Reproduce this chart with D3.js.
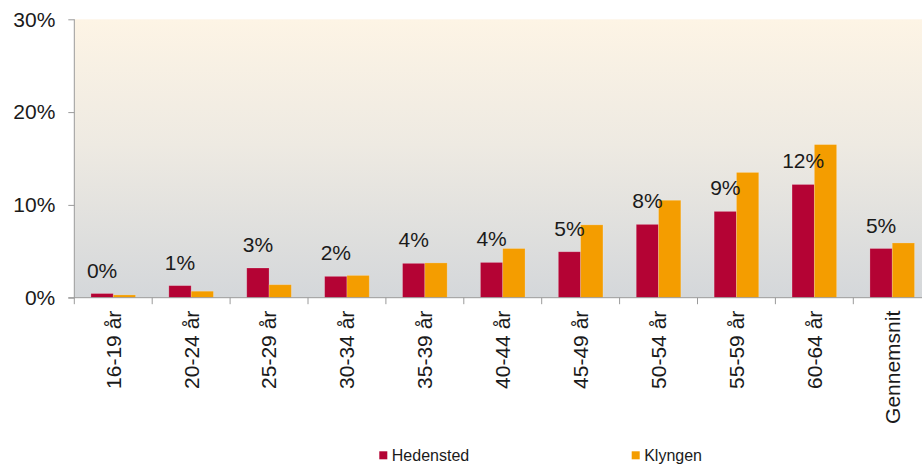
<!DOCTYPE html>
<html>
<head>
<meta charset="utf-8">
<script src="https://cdn.jsdelivr.net/npm/d3@7"></script>
<style>
  body { margin: 0; background: #fff; }
  svg text { font-family: "Liberation Sans", Arial, sans-serif; fill: #1a1a1a; }
</style>
</head>
<body>
<div id="graph"></div>
<script>
var categories = ['16-19 år', '20-24 år', '25-29 år', '30-34 år', '35-39 år', '40-44 år',
  '45-49 år', '50-54 år', '55-59 år', '60-64 år', 'Gennemsnit']
var hedensted = [0.0045, 0.013, 0.032, 0.023, 0.037, 0.038, 0.0495, 0.079, 0.093, 0.122, 0.053]
var klyngen = [0.003, 0.007, 0.014, 0.024, 0.0375, 0.053, 0.0785, 0.105, 0.135, 0.165, 0.059]
var seriesNames = ['Hedensted', 'Klyngen']
var colors = ['#b40334', '#f49d00']
var yTicks = [0, 0.1, 0.2, 0.3]

var width = 922, height = 466
var plotLeft = 74.3, plotTop = 19.3, plotBottom = 297.7
var plotRight = plotLeft + 77.9 * categories.length

var svg = d3.select('#graph').append('svg')
  .attr('width', width).attr('height', height)

var grad = svg.append('defs').append('linearGradient')
  .attr('id', 'bg').attr('x1', 0).attr('y1', 0).attr('x2', 0).attr('y2', 1)
grad.append('stop').attr('offset', '0%').attr('stop-color', '#fdf4e5')
grad.append('stop').attr('offset', '45%').attr('stop-color', '#eeeae2')
grad.append('stop').attr('offset', '100%').attr('stop-color', '#d4d7da')

var x = d3.scaleBand().domain(categories).range([plotLeft, plotRight])
var xs = d3.scaleBand().domain(seriesNames).range([0, 44.6])
var y = d3.scaleLinear().domain([0, 0.3]).range([plotBottom, plotTop])

svg.append('rect')
  .attr('x', plotLeft).attr('y', plotTop)
  .attr('width', plotRight - plotLeft).attr('height', plotBottom - plotTop)
  .attr('fill', 'url(#bg)')

var rows = categories.map((c, i) => ({cat: c, values: [hedensted[i], klyngen[i]]}))
var pad = (x.bandwidth() - 44.6) / 2

var groups = svg.selectAll('g.grp').data(rows).join('g')
  .attr('class', 'grp')
  .attr('transform', d => `translate(${x(d.cat) + pad},0)`)

groups.selectAll('rect').data(d => d.values.map((v, j) => ({v: v, name: seriesNames[j], j: j})))
  .join('rect')
  .attr('x', d => xs(d.name))
  .attr('width', xs.bandwidth())
  .attr('y', d => y(d.v))
  .attr('height', d => plotBottom - y(d.v))
  .attr('fill', d => colors[d.j])
  .attr('stroke', 'rgba(255,255,255,0.25)')
  .attr('stroke-width', 0.8)

var fmt = d3.format('.0%')
groups.append('text')
  .attr('x', xs('Hedensted') + xs.bandwidth() / 2)
  .attr('y', d => y(d.values[0]) - 16)
  .attr('text-anchor', 'middle')
  .style('font-size', '21px')
  .text(d => fmt(d.values[0]))

// y axis
var yAxis = svg.append('g')
  .attr('transform', `translate(${plotLeft},0)`)
  .call(d3.axisLeft(y).tickValues(yTicks).tickFormat(d3.format('.0%')).tickSize(6).tickPadding(13))
yAxis.selectAll('line, path').attr('stroke', '#9a9a9a')
yAxis.select('.domain').attr('d', `M0,${plotTop}V${plotBottom}`)
yAxis.selectAll('text').style('font-size', '21px').attr('fill', '#1a1a1a')

// x axis
var xAxis = svg.append('g')
  .attr('transform', `translate(0,${plotBottom})`)
  .call(d3.axisBottom(x).tickSize(0).tickFormat(''))
xAxis.select('.domain').attr('d', `M${plotLeft - 6},0H${plotRight}`).attr('stroke', '#9a9a9a')
xAxis.selectAll('.tick').remove()
xAxis.selectAll('line.sep').data(categories).join('line')
  .attr('class', 'sep')
  .attr('x1', d => x(d)).attr('x2', d => x(d))
  .attr('y1', 0).attr('y2', 6.5)
  .attr('stroke', '#9a9a9a')

svg.selectAll('text.cat').data(categories).join('text')
  .attr('class', 'cat')
  .attr('transform', d => `translate(${x(d) + x.bandwidth() / 2},${plotBottom + 13}) rotate(-90)`)
  .attr('text-anchor', 'end')
  .attr('dy', '0.35em')
  .style('font-size', '21px')
  .text(d => d)

// legend
var legendX = [379.3, 631.7]
var legend = svg.selectAll('g.leg').data(seriesNames).join('g')
  .attr('class', 'leg')
  .attr('transform', (d, i) => `translate(${legendX[i]},451.3)`)
legend.append('rect').attr('width', 8).attr('height', 8).attr('fill', (d, i) => colors[i])
legend.append('text').attr('x', 12.5).attr('y', 10).style('font-size', '16px').text(d => d)
</script>
</body>
</html>
